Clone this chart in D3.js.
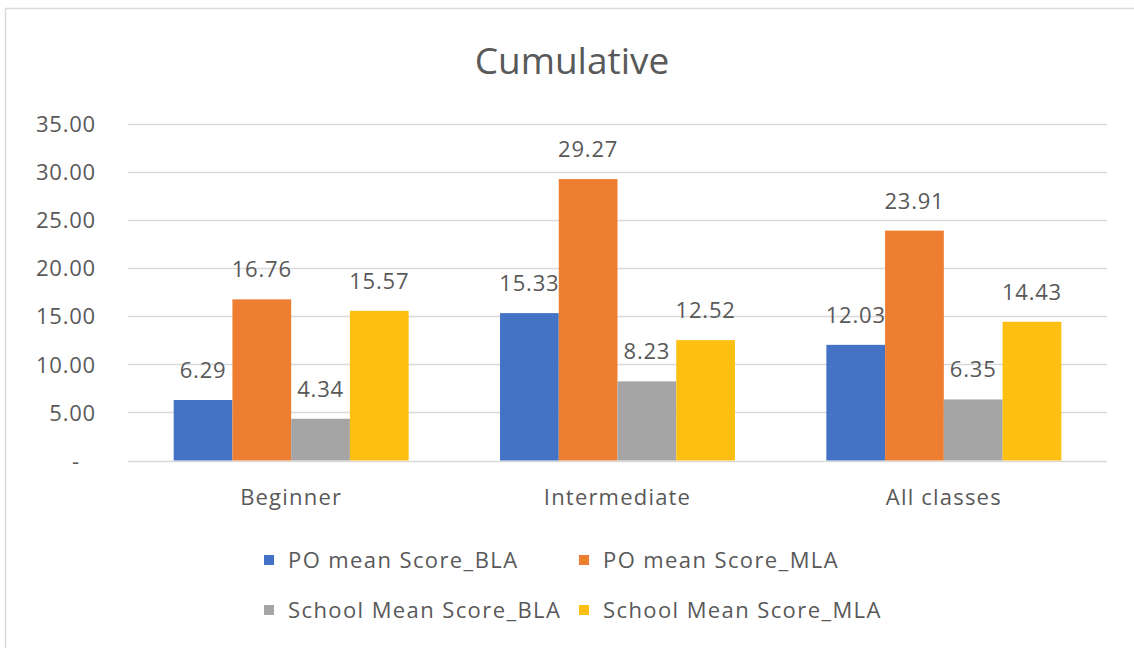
<!DOCTYPE html>
<html>
<head>
<meta charset="utf-8">
<script src="https://cdn.jsdelivr.net/npm/d3@7"></script>
<style>
  html, body { margin: 0; padding: 0; background: #fff; }
  svg { display: block; font-family: "Open Sans", sans-serif; }
</style>
</head>
<body>
<div id="chart"></div>
<script>
const categories = ['Beginner', 'Intermediate', 'All classes'];
const seriesNames = ['PO mean Score_BLA', 'PO mean Score_MLA', 'School Mean Score_BLA', 'School Mean Score_MLA'];
const seriesColors = ['#4472C4', '#ED7D31', '#A5A5A5', '#FDBF12'];
const values = [
  [6.29, 16.76, 4.34, 15.57],
  [15.33, 29.27, 8.23, 12.52],
  [12.03, 23.91, 6.35, 14.43]
];
const yTicks = [0, 5, 10, 15, 20, 25, 30, 35];

const width = 1134, height = 648;
const textColor = '#595959';

const svg = d3.select('#chart').append('svg')
    .attr('width', width)
    .attr('height', height);

// chart frame (only top/left edges visible, the rest is cropped)
svg.append('rect')
    .attr('x', 5.5).attr('y', 8.5)
    .attr('width', 1200).attr('height', 700)
    .attr('fill', 'none')
    .attr('stroke', '#d9d9d9')
    .attr('stroke-width', 1.5);

const plotLeft = 128, plotRight = 1107;

const x0 = d3.scaleBand()
    .domain(categories)
    .range([plotLeft, plotRight])
    .paddingInner(0.28)
    .paddingOuter(0.14);

const x1 = d3.scaleBand()
    .domain(d3.range(seriesNames.length))
    .range([0, x0.bandwidth()]);

const y = d3.scaleLinear()
    .domain([0, 35])
    .range([460.5, 124]);

// gridlines
svg.append('g')
    .selectAll('line')
    .data(yTicks)
    .join('line')
      .attr('x1', plotLeft)
      .attr('x2', plotRight)
      .attr('y1', d => Math.round(y(d)) + 0.5)
      .attr('y2', d => Math.round(y(d)) + 0.5)
      .attr('stroke', '#d9d9d9')
      .attr('stroke-width', 1.5);

// y axis labels
svg.append('g')
    .call(d3.axisLeft(y)
      .tickValues(yTicks)
      .tickSize(0)
      .tickPadding(0)
      .tickFormat(d => d === 0 ? '-' : d3.format('.2f')(d)))
    .attr('transform', `translate(96,0)`)
    .call(g => g.select('.domain').remove())
    .call(g => g.selectAll('text')
      .attr('fill', textColor)
      .attr('font-size', 22)
      .attr('letter-spacing', 0.8)
      .attr('font-family', '"Open Sans", sans-serif')
      .attr('dy', '0.35em'))
    .call(g => g.selectAll('.tick').filter(d => d === 0).select('text').attr('dx', -16));

// bars
const groups = svg.append('g')
    .selectAll('g')
    .data(categories)
    .join('g')
      .attr('transform', d => `translate(${x0(d)},0)`);

groups.selectAll('rect')
    .data((d, i) => values[i].map((v, j) => ({ v, j })))
    .join('rect')
      .attr('x', d => x1(d.j))
      .attr('y', d => y(d.v))
      .attr('width', x1.bandwidth())
      .attr('height', d => y(0) - y(d.v))
      .attr('fill', d => seriesColors[d.j]);

groups.selectAll('text')
    .data((d, i) => values[i].map((v, j) => ({ v, j })))
    .join('text')
      .attr('x', d => x1(d.j) + x1.bandwidth() / 2)
      .attr('y', d => y(d.v) - 22)
      .attr('text-anchor', 'middle')
      .attr('fill', textColor)
      .attr('font-size', 22)
      .attr('letter-spacing', 0.8)
      .text(d => d.v.toFixed(2));

// category axis
svg.append('g')
    .attr('transform', 'translate(0,505)')
    .selectAll('text')
    .data(categories)
    .join('text')
      .attr('x', d => x0(d) + x0.bandwidth() / 2)
      .attr('text-anchor', 'middle')
      .attr('fill', textColor)
      .attr('font-size', 22)
      .attr('letter-spacing', 1.2)
      .text(d => d);

// title
svg.append('text')
    .attr('x', 572)
    .attr('y', 74)
    .attr('text-anchor', 'middle')
    .attr('fill', textColor)
    .attr('font-size', 37)
    .text('Cumulative');

// legend
const legendX = [264, 579];
const legendY = [560, 610];
const legend = svg.append('g')
    .selectAll('g')
    .data(seriesNames)
    .join('g')
      .attr('transform', (d, i) => `translate(${legendX[i % 2]},${legendY[Math.floor(i / 2)]})`);

legend.append('rect')
    .attr('x', 0)
    .attr('y', -5)
    .attr('width', 10)
    .attr('height', 10)
    .attr('fill', (d, i) => seriesColors[i]);

legend.append('text')
    .attr('x', 24)
    .attr('dy', '0.35em')
    .attr('fill', textColor)
    .attr('font-size', 22)
    .attr('letter-spacing', 1.4)
    .text(d => d);
</script>
</body>
</html>
